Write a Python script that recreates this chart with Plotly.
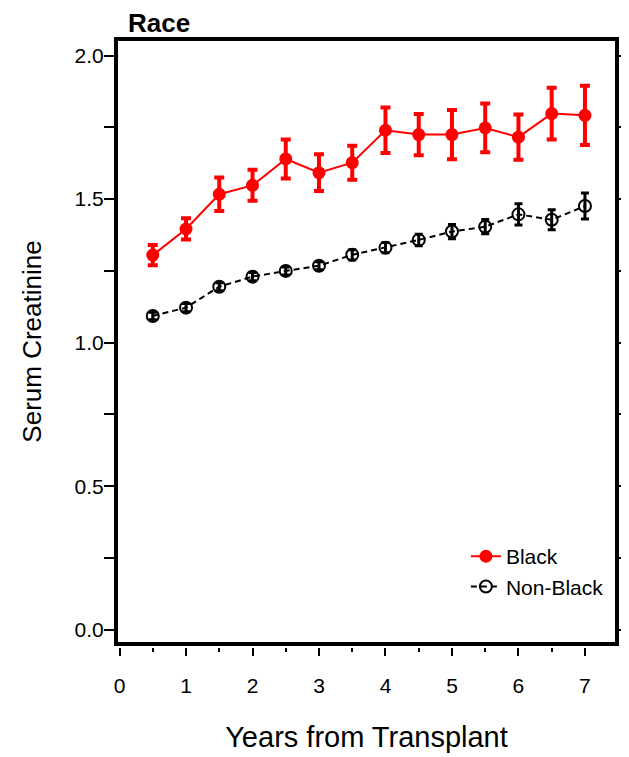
import plotly.graph_objects as go

years = [0.5, 1.0, 1.5, 2.0, 2.5, 3.0, 3.5, 4.0, 4.5, 5.0, 5.5, 6.0, 6.5, 7.0]
black_mean = [1.305, 1.396, 1.517, 1.548, 1.640, 1.592, 1.627, 1.740, 1.725, 1.725, 1.748, 1.716, 1.798, 1.792]
black_err = [0.035, 0.037, 0.058, 0.054, 0.068, 0.064, 0.059, 0.079, 0.072, 0.086, 0.085, 0.079, 0.090, 0.103]
nonblack_mean = [1.093, 1.122, 1.195, 1.230, 1.250, 1.268, 1.306, 1.331, 1.358, 1.387, 1.404, 1.447, 1.428, 1.476]
nonblack_err = [0.013, 0.014, 0.014, 0.014, 0.014, 0.014, 0.018, 0.018, 0.020, 0.025, 0.025, 0.037, 0.035, 0.045]

x_ticks = [0, 1, 2, 3, 4, 5, 6, 7]
y_ticks = [0.0, 0.5, 1.0, 1.5, 2.0]
y_tick_labels = ["0.0", "0.5", "1.0", "1.5", "2.0"]

FONT = "Liberation Sans, Arial, sans-serif"

fig = go.Figure()

fig.add_trace(go.Scatter(
    x=years, y=black_mean, name="Black", mode="lines+markers",
    line=dict(color="#ff0000", width=2),
    marker=dict(color="#ff0000", size=13, symbol="circle"),
    error_y=dict(type="data", array=black_err, visible=True,
                 color="#ff0000", thickness=4, width=5),
))
fig.add_trace(go.Scatter(
    x=years, y=nonblack_mean, name="Non-Black", mode="lines+markers",
    line=dict(color="black", width=2, dash="6px,4px"),
    marker=dict(color="black", size=12, symbol="circle-open", line=dict(width=2)),
    error_y=dict(type="data", array=nonblack_err, visible=True,
                 color="black", thickness=3, width=4),
))

# invisible helper trace to create the offset tick axis for x
fig.add_trace(go.Scatter(x=[x_ticks[0], x_ticks[-1]], y=[y_ticks[0], y_ticks[0]],
                         xaxis="x2", mode="markers", marker=dict(opacity=0),
                         showlegend=False, hoverinfo="skip"))

# the page body adds an 8px margin, so the figure is 8px smaller each way
W, H = 621, 749
L, R, T, B = 110, 14, 33, 110
plot_h = H - T - B
gap = 5

fig.update_layout(
    width=W, height=H,
    margin=dict(l=L, r=R, t=T, b=B, pad=0, autoexpand=False),
    paper_bgcolor="white", plot_bgcolor="white",
    font=dict(family=FONT, color="black", size=21),
    showlegend=True,
    legend=dict(x=0.70, y=0.183, xanchor="left", yanchor="top",
                bgcolor="rgba(0,0,0,0)", font=dict(size=21, family=FONT),
                tracegroupgap=0),
    title=dict(text="<b>Race</b>", x=0.02, xref="paper", xanchor="left",
               y=1 - 15 / H, yref="container", yanchor="middle",
               font=dict(size=26, family=FONT, color="black")),
    xaxis=dict(range=[-0.023, 7.452], showgrid=False, zeroline=False,
               showline=True, linecolor="black", linewidth=4, mirror=True,
               ticks="", showticklabels=False, automargin=False),
    xaxis2=dict(range=[-0.023, 7.452], overlaying="x", anchor="free", position=0,
                side="bottom", showgrid=False, zeroline=False, showline=False,
                automargin=False,
                tickmode="array", tickvals=x_ticks, ticks="outside", ticklen=8,
                tickwidth=2, tickcolor="black", ticklabelstandoff=12,
                tickfont=dict(size=21, family=FONT),
                minor=dict(dtick=0.5, tick0=0, ticks="outside", ticklen=4,
                           tickwidth=2, tickcolor="black"),
                title=dict(text="Years from Transplant", standoff=30,
                           font=dict(size=29, family=FONT))),
    yaxis=dict(range=[-0.043, 2.051], domain=[gap / plot_h, 1],
               showgrid=False, zeroline=False, automargin=False,
               showline=True, linecolor="black", linewidth=4, mirror="allticks",
               tickmode="array", tickvals=y_ticks, ticktext=y_tick_labels,
               ticks="outside", ticklen=10, tickwidth=2, tickcolor="black",
               ticklabelstandoff=-4,
               tickfont=dict(size=21, family=FONT),
               minor=dict(dtick=0.25, tick0=0, ticks="outside", ticklen=7,
                          tickwidth=2, tickcolor="black"),
               title=dict(text="Serum Creatinine", standoff=26,
                          font=dict(size=26, family=FONT))),
)

fig.write_html("out.html")
